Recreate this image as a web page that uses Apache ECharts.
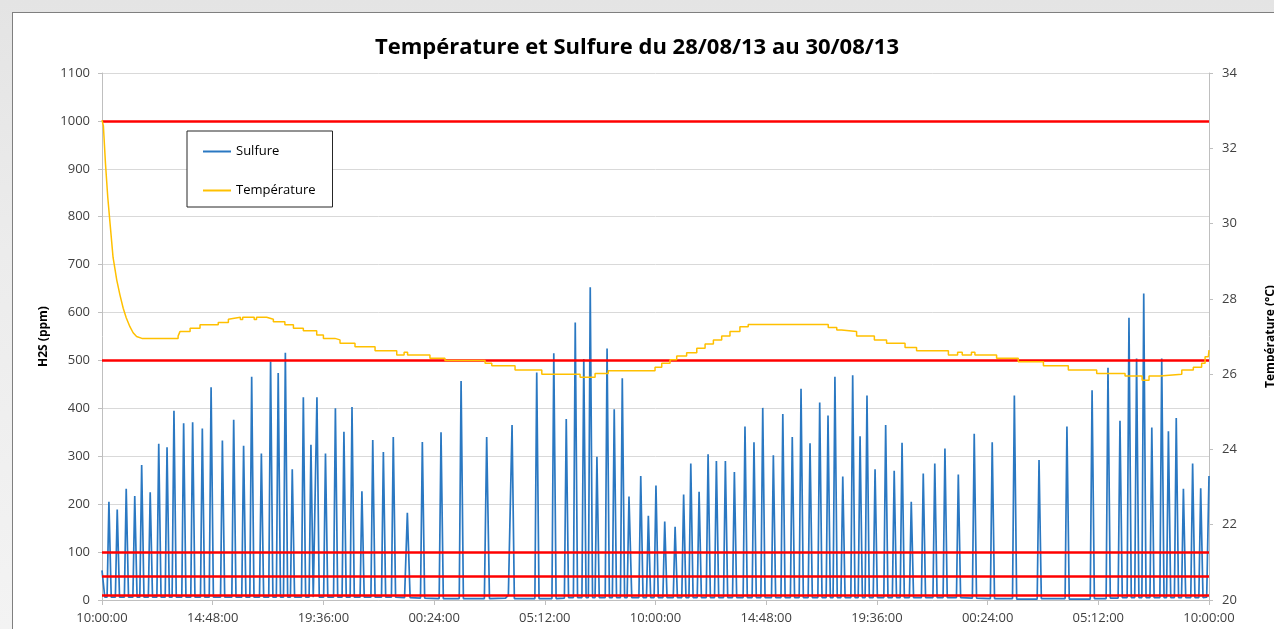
<!DOCTYPE html>
<html>
<head>
<meta charset="utf-8">
<script src="https://cdn.jsdelivr.net/npm/echarts@6/dist/echarts.min.js"></script>
<style>
  html, body { margin: 0; padding: 0; overflow: hidden; }
  body {
    width: 1274px; height: 629px; position: relative;
    background: linear-gradient(180deg, #e4e4e4 0%, #ececec 40%, #f3f3f3 100%);
  }
  #frame {
    position: absolute; left: 12px; top: 12px; width: 1300px; height: 700px;
    background: #fff; border: 1px solid #7f7f7f;
  }
  #chart { position: absolute; left: 0; top: 0; width: 1274px; height: 629px; }
</style>
</head>
<body>
<div id="frame"></div>
<div id="chart"></div>
<script>
// heures écoulées depuis le 28/08/13 10:00:00
const xTickLabels = ['10:00:00', '14:48:00', '19:36:00', '00:24:00', '05:12:00', '10:00:00',
  '14:48:00', '19:36:00', '00:24:00', '05:12:00', '10:00:00'];

// seuils H2S (ppm)
const thresholds = [1000, 500, 100, 50, 10];

// Sulfure : [heure, ppm]
const sulfure = [
  [0, 62], [0.12, 6],
  [0.22, 6], [0.30, 205], [0.40, 6],
  [0.58, 6], [0.66, 189], [0.76, 6],
  [0.97, 6], [1.05, 232], [1.15, 6],
  [1.34, 6], [1.42, 217], [1.52, 6],
  [1.64, 6], [1.72, 282], [1.82, 6],
  [2.01, 6], [2.09, 225], [2.19, 6],
  [2.38, 6], [2.46, 326], [2.56, 6],
  [2.74, 6], [2.82, 319], [2.92, 6],
  [3.04, 6], [3.12, 395], [3.22, 6],
  [3.46, 6], [3.54, 369], [3.64, 6],
  [3.85, 6], [3.93, 371], [4.03, 6],
  [4.27, 6], [4.35, 358], [4.45, 6],
  [4.65, 6], [4.73, 444], [4.83, 6],
  [5.14, 6], [5.22, 333], [5.32, 6],
  [5.63, 6], [5.71, 376], [5.81, 6],
  [6.06, 6], [6.14, 322], [6.24, 6],
  [6.41, 6], [6.49, 466], [6.59, 6],
  [6.83, 6], [6.91, 306], [7.01, 6],
  [7.23, 6], [7.31, 498], [7.41, 6],
  [7.56, 6], [7.64, 474], [7.74, 6],
  [7.87, 6], [7.95, 516], [8.05, 6],
  [8.17, 6], [8.25, 273], [8.35, 6],
  [8.65, 6], [8.73, 423], [8.83, 6],
  [8.98, 6], [9.06, 324], [9.16, 6],
  [9.24, 6], [9.32, 423], [9.42, 6],
  [9.61, 6], [9.69, 306], [9.79, 6],
  [10.04, 6], [10.12, 400], [10.22, 6],
  [10.41, 6], [10.49, 351], [10.59, 6],
  [10.76, 6], [10.84, 403], [10.94, 6],
  [11.19, 6], [11.27, 227], [11.37, 6],
  [11.66, 6], [11.74, 334], [11.84, 6],
  [12.12, 6], [12.20, 309], [12.30, 6],
  [12.55, 6], [12.63, 340], [12.73, 6],
  [13.12, 5], [13.24, 182], [13.36, 5],
  [13.81, 4], [13.89, 330], [13.99, 4],
  [14.62, 3], [14.70, 350], [14.80, 3],
  [15.49, 3], [15.57, 457], [15.67, 3],
  [16.58, 3], [16.68, 340], [16.80, 3],
  [17.50, 4], [17.62, 10], [17.70, 6], [17.78, 365], [17.88, 3],
  [18.77, 3], [18.85, 475], [18.95, 3],
  [19.51, 3], [19.59, 515], [19.69, 3],
  [20.05, 4], [20.13, 378], [20.23, 5],
  [20.44, 5], [20.52, 579], [20.62, 5],
  [20.81, 5], [20.89, 503], [20.99, 5],
  [21.09, 5], [21.17, 653], [21.27, 5],
  [21.38, 5], [21.46, 299], [21.56, 5],
  [21.82, 5], [21.90, 525], [22.00, 5],
  [22.13, 5], [22.21, 398], [22.31, 5],
  [22.48, 5], [22.56, 463], [22.66, 5],
  [22.77, 5], [22.85, 216], [22.97, 5],
  [23.28, 5], [23.36, 259], [23.46, 5],
  [23.61, 5], [23.69, 176], [23.79, 5],
  [23.94, 5], [24.02, 239], [24.12, 5],
  [24.32, 5], [24.40, 164], [24.50, 5],
  [24.77, 5], [24.85, 153], [24.95, 5],
  [25.14, 5], [25.22, 220], [25.32, 5],
  [25.45, 5], [25.53, 285], [25.63, 5],
  [25.81, 5], [25.89, 226], [25.99, 5],
  [26.20, 5], [26.28, 304], [26.38, 5],
  [26.56, 5], [26.64, 290], [26.74, 5],
  [26.95, 5], [27.03, 290], [27.13, 5],
  [27.34, 5], [27.42, 267], [27.52, 5],
  [27.80, 5], [27.88, 362], [27.98, 5],
  [28.19, 5], [28.27, 329], [28.37, 5],
  [28.57, 5], [28.65, 401], [28.75, 5],
  [29.03, 5], [29.11, 302], [29.21, 5],
  [29.44, 5], [29.52, 388], [29.62, 5],
  [29.85, 5], [29.93, 340], [30.03, 5],
  [30.23, 5], [30.31, 441], [30.41, 5],
  [30.62, 5], [30.70, 327], [30.80, 5],
  [31.04, 5], [31.12, 412], [31.22, 5],
  [31.40, 5], [31.48, 385], [31.58, 5],
  [31.70, 5], [31.78, 466], [31.88, 5],
  [32.04, 5], [32.12, 258], [32.22, 5],
  [32.47, 5], [32.55, 469], [32.65, 5],
  [32.79, 5], [32.87, 342], [32.97, 5],
  [33.09, 5], [33.17, 427], [33.27, 5],
  [33.44, 5], [33.52, 273], [33.62, 5],
  [33.90, 5], [33.98, 365], [34.08, 5],
  [34.27, 5], [34.35, 270], [34.45, 5],
  [34.61, 5], [34.69, 328], [34.79, 5],
  [35.01, 5], [35.09, 205], [35.19, 5],
  [35.53, 5], [35.61, 264], [35.71, 5],
  [36.03, 5], [36.11, 285], [36.21, 5],
  [36.47, 5], [36.55, 316], [36.65, 5],
  [37.05, 5], [37.13, 262], [37.23, 5],
  [37.74, 4], [37.82, 347], [37.92, 4],
  [38.52, 3], [38.60, 329], [38.70, 3],
  [39.48, 3], [39.56, 427], [39.66, 2],
  [40.55, 2], [40.63, 292], [40.73, 3],
  [41.76, 3], [41.84, 362], [41.94, 2],
  [42.85, 2], [42.93, 438], [43.03, 3],
  [43.54, 3], [43.62, 485], [43.72, 4],
  [44.06, 4], [44.14, 374], [44.24, 5],
  [44.45, 5], [44.53, 589], [44.63, 5],
  [44.78, 5], [44.86, 504], [44.96, 5],
  [45.09, 5], [45.17, 640], [45.27, 5],
  [45.44, 5], [45.52, 360], [45.62, 5],
  [45.87, 5], [45.95, 504], [46.05, 5],
  [46.16, 5], [46.24, 352], [46.34, 5],
  [46.50, 5], [46.58, 380], [46.68, 5],
  [46.81, 5], [46.89, 232], [46.99, 5],
  [47.21, 5], [47.29, 285], [47.39, 5],
  [47.56, 5], [47.64, 233], [47.74, 5],
  [47.90, 6], [48, 259]
];

// Température : [heure, °C]
const temperature = [
  [0, 32.75], [0.06, 32.6], [0.15, 31.6], [0.25, 30.7], [0.35, 30.0], [0.48, 29.1],
  [0.64, 28.5], [0.78, 28.1], [0.92, 27.75], [1.05, 27.5], [1.21, 27.26], [1.35, 27.1],
  [1.50, 27.0], [1.73, 26.95],
  [3.30, 26.95], [3.30, 27.01], [3.38, 27.01], [3.38, 27.13], [3.82, 27.13], [3.82, 27.22],
  [4.25, 27.22], [4.25, 27.31], [5.04, 27.31], [5.04, 27.37], [5.48, 27.37], [5.48, 27.46],
  [5.55, 27.46], [5.55, 27.51], [6.00, 27.51], [6.00, 27.45], [6.10, 27.45], [6.10, 27.51],
  [6.60, 27.51], [6.60, 27.45], [6.70, 27.45], [6.70, 27.51], [7.14, 27.51], [7.14, 27.46],
  [7.43, 27.46], [7.43, 27.39], [7.93, 27.39], [7.93, 27.31], [8.30, 27.31], [8.30, 27.22],
  [8.73, 27.22], [8.73, 27.15], [9.31, 27.15], [9.31, 27.04], [9.60, 27.04], [9.60, 26.95],
  [10.10, 26.95], [10.10, 26.91], [10.32, 26.91], [10.32, 26.82], [10.97, 26.82], [10.97, 26.73],
  [11.84, 26.73], [11.84, 26.62], [12.78, 26.62], [12.78, 26.51], [13.10, 26.51], [13.10, 26.58],
  [13.25, 26.58], [13.25, 26.51], [14.22, 26.51], [14.22, 26.42], [14.87, 26.42], [14.87, 26.36],
  [16.61, 26.36], [16.61, 26.29], [16.90, 26.29], [16.90, 26.22], [17.91, 26.22], [17.91, 26.11],
  [19.07, 26.11], [19.07, 26.00], [20.73, 26.00], [20.73, 25.92], [21.38, 25.92], [21.38, 26.02],
  [21.95, 26.02], [21.95, 26.09], [23.98, 26.09], [23.98, 26.18], [24.27, 26.18], [24.27, 26.29],
  [24.63, 26.29], [24.63, 26.38], [24.92, 26.38], [24.92, 26.48], [25.35, 26.48], [25.35, 26.57],
  [25.79, 26.57], [25.79, 26.69], [26.15, 26.69], [26.15, 26.80], [26.51, 26.80], [26.51, 26.91],
  [26.87, 26.91], [26.87, 27.01], [27.23, 27.01], [27.23, 27.13], [27.66, 27.13], [27.66, 27.26],
  [28.02, 27.26], [28.02, 27.32], [31.49, 27.32], [31.49, 27.24], [31.86, 27.24], [31.86, 27.17],
  [32.07, 27.17], [32.07, 27.13], [32.72, 27.13], [32.72, 27.01], [33.49, 27.01], [33.49, 26.91],
  [34.02, 26.91], [34.02, 26.82], [34.82, 26.82], [34.82, 26.71], [35.32, 26.71], [35.32, 26.62],
  [36.70, 26.62], [36.70, 26.51], [37.10, 26.51], [37.10, 26.58], [37.30, 26.58], [37.30, 26.51],
  [37.70, 26.51], [37.70, 26.58], [37.85, 26.58], [37.85, 26.51], [38.79, 26.51], [38.79, 26.42],
  [39.73, 26.42], [39.73, 26.33], [40.82, 26.33], [40.82, 26.22], [41.90, 26.22], [41.90, 26.11],
  [43.13, 26.11], [43.13, 26.02], [44.36, 26.02], [44.36, 25.95], [45.10, 25.95], [45.10, 25.84],
  [45.40, 25.84], [45.40, 25.95], [45.87, 25.95], [45.87, 26.00], [46.82, 26.00], [46.82, 26.11],
  [47.32, 26.11], [47.32, 26.18], [47.68, 26.18], [47.68, 26.29], [47.83, 26.29], [47.83, 26.46],
  [47.97, 26.46], [48, 26.64]
];

const chart = echarts.init(document.getElementById('chart'));

const axisText = { color: '#404040', fontSize: 13, fontFamily: 'Open Sans, sans-serif' };

chart.setOption({
  animation: false,
  title: {
    text: 'Température et Sulfure du 28/08/13 au 30/08/13',
    left: 'center',
    top: 32,
    textStyle: { fontSize: 22, fontWeight: 'bold', color: '#000', fontFamily: 'Open Sans, sans-serif' }
  },
  legend: {
    orient: 'vertical',
    left: 187,
    top: 131,
    padding: [14, 17, 10, 16],
    itemGap: 26,
    itemWidth: 28,
    itemHeight: 2,
    icon: 'rect',
    backgroundColor: '#fff',
    borderColor: '#262626',
    borderWidth: 1,
    textStyle: { color: '#000', fontSize: 13, fontFamily: 'Open Sans, sans-serif' },
    data: ['Sulfure', 'Température']
  },
  grid: { left: 102, right: 65, top: 73, bottom: 29, outerBoundsMode: 'none' },
  xAxis: {
    type: 'value',
    min: 0,
    max: 48,
    interval: 4.8,
    axisLine: { lineStyle: { color: '#bfbfbf' } },
    axisTick: { show: true, length: 5, lineStyle: { color: '#bfbfbf' } },
    splitLine: { show: false },
    axisLabel: Object.assign({
      margin: 12,
      showMinLabel: true,
      showMaxLabel: true,
      formatter: v => xTickLabels[Math.round(v / 4.8)]
    }, axisText)
  },
  yAxis: [
    {
      type: 'value',
      min: 0,
      max: 1100,
      interval: 100,
      name: 'H2S (ppm)',
      nameLocation: 'middle',
      nameRotate: 90,
      nameGap: 48,
      nameTextStyle: { color: '#000', fontSize: 12, fontWeight: 'bold', fontFamily: 'Open Sans, sans-serif' },
      axisLine: { show: true, lineStyle: { color: '#bfbfbf' } },
      axisTick: { show: true, length: 4, lineStyle: { color: '#bfbfbf' } },
      splitLine: { lineStyle: { color: '#d9d9d9' } },
      axisLabel: Object.assign({ margin: 12, formatter: v => String(v) }, axisText)
    },
    {
      type: 'value',
      min: 20,
      max: 34,
      interval: 2,
      position: 'right',
      name: 'Température (°C)',
      nameLocation: 'middle',
      nameRotate: 90,
      nameGap: 56,
      nameTextStyle: { color: '#000', fontSize: 12, fontWeight: 'bold', fontFamily: 'Open Sans, sans-serif' },
      axisLine: { show: true, lineStyle: { color: '#bfbfbf' } },
      axisTick: { show: true, length: 4, lineStyle: { color: '#bfbfbf' } },
      splitLine: { show: false },
      axisLabel: Object.assign({ margin: 13, formatter: v => String(v) }, axisText)
    }
  ],
  series: [
    {
      name: 'Sulfure',
      type: 'line',
      yAxisIndex: 0,
      data: sulfure,
      symbol: 'none',
      color: '#2a78c2',
      lineStyle: { width: 1.7, color: '#2a78c2' },
      z: 2,
      markLine: {
        silent: true,
        symbol: 'none',
        z: 5,
        label: { show: false },
        lineStyle: { color: '#ff0000', width: 2.5, type: 'solid' },
        data: thresholds.map(v => ({ yAxis: v }))
      }
    },
    {
      name: 'Température',
      type: 'line',
      yAxisIndex: 1,
      data: temperature,
      symbol: 'none',
      color: '#ffc000',
      lineStyle: { width: 1.5, color: '#ffc000' },
      z: 6
    }
  ]
});
</script>
</body>
</html>
